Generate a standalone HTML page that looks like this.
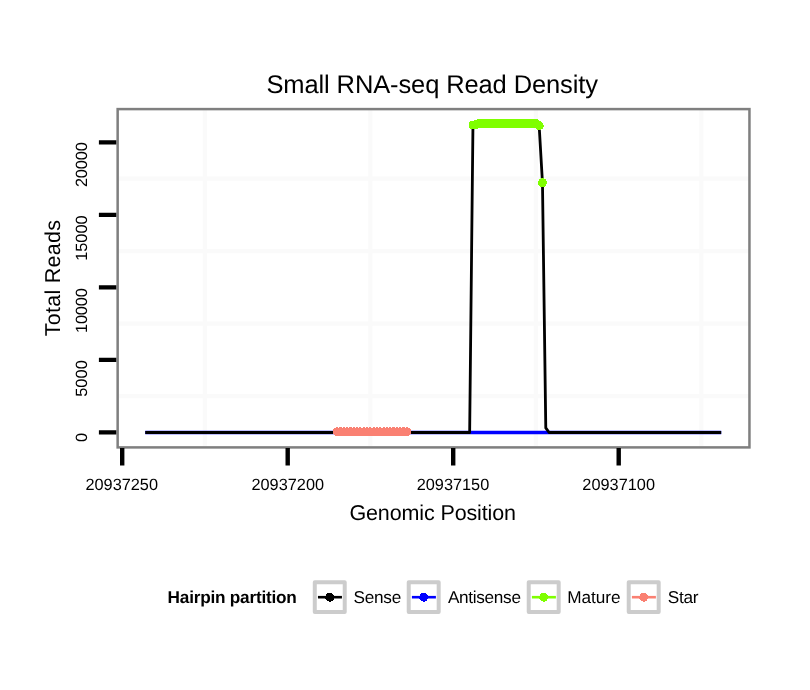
<!DOCTYPE html><html><head><meta charset="utf-8"><title>Small RNA-seq Read Density</title>
<style>html,body{margin:0;padding:0;background:#fff;}svg{display:block;will-change:transform;text-rendering:geometricPrecision;}text{font-family:"Liberation Sans",Arial,Helvetica,sans-serif;fill:#000;}</style></head><body>
<svg width="810" height="690" viewBox="0 0 810 690">
<rect x="0" y="0" width="810" height="690" fill="#fff"/>
<path d="M204.85 109.10V447.40M370.35 109.10V447.40M535.85 109.10V447.40M701.35 109.10V447.40M117.65 396.15H749.45M117.65 323.65H749.45M117.65 251.15H749.45M117.65 178.65H749.45" stroke="#fafafa" stroke-width="4.2" fill="none"/>
<path d="M145.27 432.52H721.21" stroke="#0000ff" stroke-width="3.5" fill="none"/>
<path d="M145.27 432.52 L469.65 432.52 L472.96 125.12 L476.27 124.39 L479.58 123.52 L535.85 123.52 L539.16 125.84 L542.47 182.71 L545.78 427.88 L549.09 432.52 L721.21 432.52" stroke="#000" stroke-width="2.8" fill="none" stroke-linejoin="round"/>
<g fill="#fa8072" shape-rendering="crispEdges"><circle cx="406.76" cy="431.8" r="4.5"/><circle cx="403.45" cy="431.8" r="4.5"/><circle cx="400.14" cy="431.8" r="4.5"/><circle cx="396.83" cy="431.8" r="4.5"/><circle cx="393.52" cy="431.8" r="4.5"/><circle cx="390.21" cy="431.8" r="4.5"/><circle cx="386.90" cy="431.8" r="4.5"/><circle cx="383.59" cy="431.8" r="4.5"/><circle cx="380.28" cy="431.8" r="4.5"/><circle cx="376.97" cy="431.8" r="4.5"/><circle cx="373.66" cy="431.8" r="4.5"/><circle cx="370.35" cy="431.8" r="4.5"/><circle cx="367.04" cy="431.8" r="4.5"/><circle cx="363.73" cy="431.8" r="4.5"/><circle cx="360.42" cy="431.8" r="4.5"/><circle cx="357.11" cy="431.8" r="4.5"/><circle cx="353.80" cy="431.8" r="4.5"/><circle cx="350.49" cy="431.8" r="4.5"/><circle cx="347.18" cy="431.8" r="4.5"/><circle cx="343.87" cy="431.8" r="4.5"/><circle cx="340.56" cy="431.8" r="4.5"/><circle cx="337.25" cy="431.8" r="4.5"/></g>
<g fill="#7fff00" shape-rendering="crispEdges"><circle cx="542.47" cy="182.59" r="4.5"/><circle cx="539.16" cy="125.72" r="4.5"/><circle cx="535.85" cy="123.40" r="4.5"/><circle cx="532.54" cy="123.40" r="4.5"/><circle cx="529.23" cy="123.40" r="4.5"/><circle cx="525.92" cy="123.40" r="4.5"/><circle cx="522.61" cy="123.40" r="4.5"/><circle cx="519.30" cy="123.40" r="4.5"/><circle cx="515.99" cy="123.40" r="4.5"/><circle cx="512.68" cy="123.40" r="4.5"/><circle cx="509.37" cy="123.40" r="4.5"/><circle cx="506.06" cy="123.40" r="4.5"/><circle cx="502.75" cy="123.40" r="4.5"/><circle cx="499.44" cy="123.40" r="4.5"/><circle cx="496.13" cy="123.40" r="4.5"/><circle cx="492.82" cy="123.40" r="4.5"/><circle cx="489.51" cy="123.40" r="4.5"/><circle cx="486.20" cy="123.40" r="4.5"/><circle cx="482.89" cy="123.40" r="4.5"/><circle cx="479.58" cy="123.40" r="4.5"/><circle cx="476.27" cy="124.27" r="4.5"/><circle cx="472.96" cy="125.00" r="4.5"/></g>
<rect x="117.65" y="109.1" width="631.80" height="338.30" fill="none" stroke="#7f7f7f" stroke-width="2.5"/>
<path d="M122.20 448.1V465.6M287.70 448.1V465.6M453.20 448.1V465.6M618.70 448.1V465.6M98.9 432.40H116.3M98.9 359.90H116.3M98.9 287.40H116.3M98.9 214.90H116.3M98.9 142.40H116.3" stroke="#000" stroke-width="4.4" fill="none"/>
<text id="title" x="266.45" y="92.60" font-size="25.5" textLength="331.53" lengthAdjust="spacing">Small RNA-seq Read Density</text>
<text id="xt1" x="85.43" y="490.00" font-size="16.3" textLength="72.57" lengthAdjust="spacing">20937250</text>
<text id="xt2" x="251.43" y="490.00" font-size="16.3" textLength="72.64" lengthAdjust="spacing">20937200</text>
<text id="xt3" x="416.67" y="490.00" font-size="16.3" textLength="72.58" lengthAdjust="spacing">20937150</text>
<text id="xt4" x="582.33" y="490.00" font-size="16.3" textLength="72.67" lengthAdjust="spacing">20937100</text>
<text id="xtitle" x="349.40" y="519.80" font-size="21.5" textLength="166.66" lengthAdjust="spacing">Genomic Position</text>
<text id="ytitle" transform="translate(60.20 336.22) rotate(-90)" font-size="21.5" textLength="116.18" lengthAdjust="spacing">Total Reads</text>
<text id="yt0" transform="translate(86.70 441.90) rotate(-90)" font-size="16.3">0</text>
<text id="yt5" transform="translate(86.70 396.84) rotate(-90)" font-size="16.3" textLength="36.65" lengthAdjust="spacing">5000</text>
<text id="yt10" transform="translate(86.70 333.03) rotate(-90)" font-size="16.3" textLength="44.84" lengthAdjust="spacing">10000</text>
<text id="yt15" transform="translate(86.70 260.75) rotate(-90)" font-size="16.3" textLength="45.32" lengthAdjust="spacing">15000</text>
<text id="yt20" transform="translate(86.70 187.08) rotate(-90)" font-size="16.3" textLength="44.93" lengthAdjust="spacing">20000</text>
<text id="ltitle" x="167.60" y="602.90" font-size="17.2" font-weight="bold" textLength="129.22" lengthAdjust="spacing">Hairpin partition</text>
<text id="l1" x="353.41" y="602.90" font-size="17.2" textLength="47.81" lengthAdjust="spacing">Sense</text>
<text id="l2" x="447.94" y="602.90" font-size="17.2" textLength="73.03" lengthAdjust="spacing">Antisense</text>
<text id="l3" x="567.26" y="602.90" font-size="17.2" textLength="53.34" lengthAdjust="spacing">Mature</text>
<text id="l4" x="667.71" y="602.90" font-size="17.2" textLength="30.76" lengthAdjust="spacing">Star</text>
<rect x="314.78" y="582.2" width="29.95" height="29.9" fill="#fff" stroke="#cccccc" stroke-width="4" stroke-linejoin="round"/>
<path d="M317.95 597.2H341.95" stroke="#000" stroke-width="2.6"/>
<circle cx="329.75" cy="597.2" r="4.5" fill="#000" shape-rendering="crispEdges"/>
<rect x="408.73" y="582.2" width="29.95" height="29.9" fill="#fff" stroke="#cccccc" stroke-width="4" stroke-linejoin="round"/>
<path d="M411.90 597.2H435.90" stroke="#0000ff" stroke-width="2.6"/>
<circle cx="423.70" cy="597.2" r="4.5" fill="#0000ff" shape-rendering="crispEdges"/>
<rect x="528.73" y="582.2" width="29.95" height="29.9" fill="#fff" stroke="#cccccc" stroke-width="4" stroke-linejoin="round"/>
<path d="M531.90 597.2H555.90" stroke="#7fff00" stroke-width="2.6"/>
<circle cx="543.70" cy="597.2" r="4.5" fill="#7fff00" shape-rendering="crispEdges"/>
<rect x="628.73" y="582.2" width="29.95" height="29.9" fill="#fff" stroke="#cccccc" stroke-width="4" stroke-linejoin="round"/>
<path d="M631.90 597.2H655.90" stroke="#fa8072" stroke-width="2.6"/>
<circle cx="643.70" cy="597.2" r="4.5" fill="#fa8072" shape-rendering="crispEdges"/>
</svg></body></html>
